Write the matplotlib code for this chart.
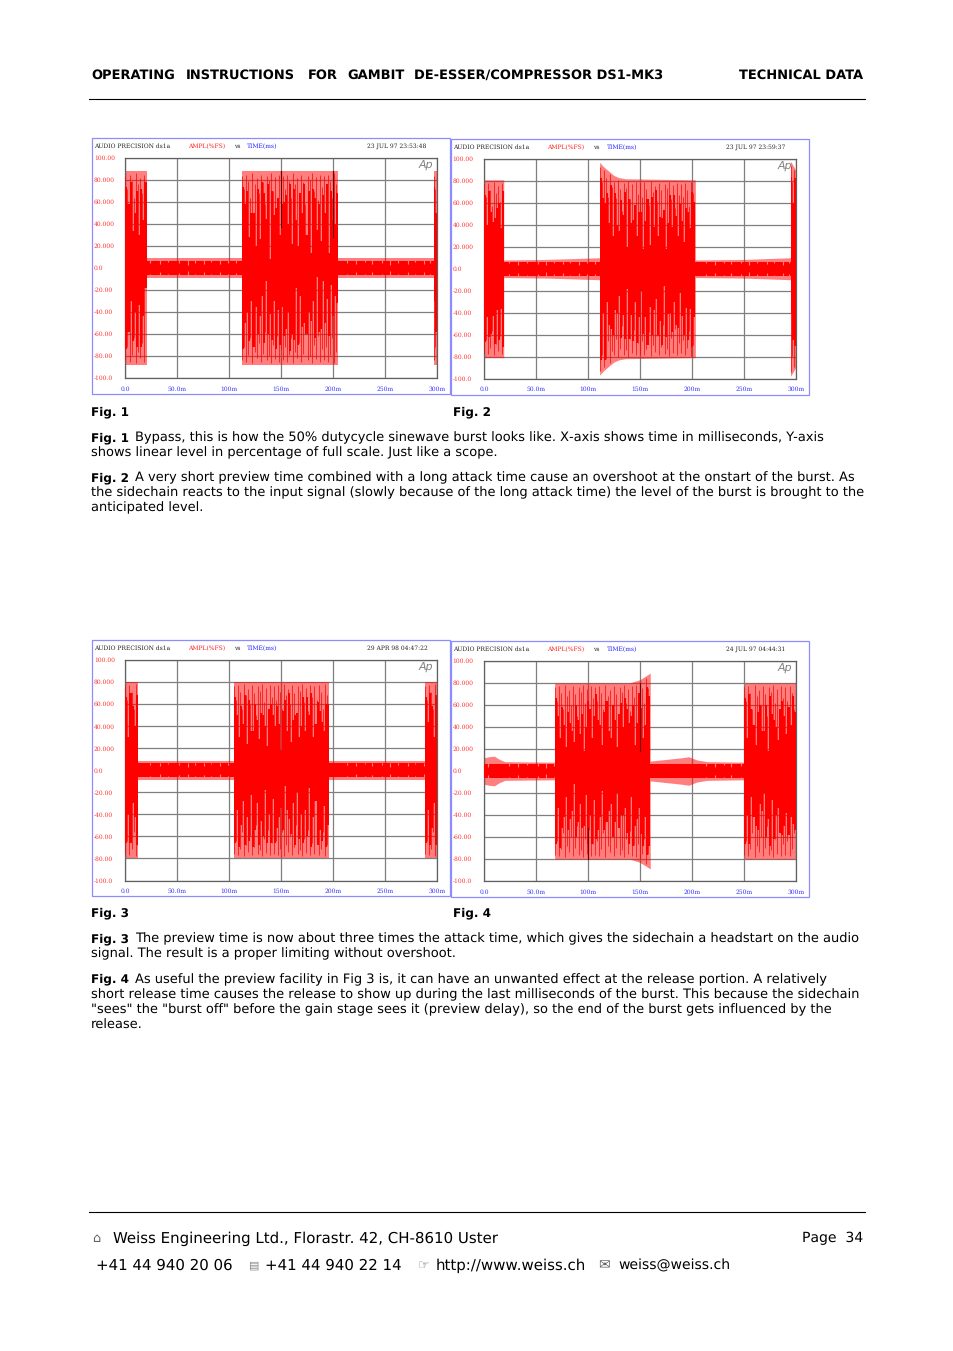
import matplotlib
matplotlib.use("Agg")
import matplotlib.pyplot as plt
import numpy as np

plt.rcParams["text.hinting"] = "no_hinting"
plt.rcParams["text.hinting_factor"] = 1

W = 954
H = 1351

# envelope of the signal, time in ms, level in %FS
fig1_env_t = [0, 20.5, 20.5, 112.7, 112.7, 205, 205, 297, 297, 300]
fig1_env = [88, 88, 9, 9, 88, 88, 9, 9, 88, 88]
fig2_env_t = [0, 19, 19, 60, 111.3, 111.3, 115, 120, 125, 130, 136, 203.4, 203.4, 250, 295, 295, 300]
fig2_env = [81, 81, 8, 8.5, 10, 97, 93, 89, 85, 83, 82, 81, 8, 8.5, 10, 98, 90]
fig3_env_t = [0, 12, 12, 104.3, 104.3, 195.9, 195.9, 288.5, 288.5, 300]
fig3_env = [80, 80, 8.5, 8.5, 80, 80, 8.5, 8.5, 80, 80]
fig4_env_t = [0, 5, 10, 14, 20, 68, 68, 140, 150, 160, 160, 175, 190, 197, 205, 215, 250.5, 250.5, 300]
fig4_env = [12, 13, 13.5, 11, 8.5, 8, 80, 80, 83, 89, 9, 10.5, 12, 13, 10, 8.5, 8, 80, 80]

# bursts: start, end of each one, then how far the solid red reaches on each column
fig1_spans = [(0, 20.5), (112.7, 205), (297, 300)]
fig1_tops = [
    [84, 60, 86, 34, 82, 70, 30, 85, 48, 80],
    [84, 80, 70, 28, 82, 50, 20, 78, 26, 84, 70, 45, 84, 8, 75, 82, 55, 80, 30, 84, 60, 78, 40, 85,
     22, 80, 68, 20, 76, 50, 82, 30, 78, 14, 72, 80, 35, 84, 25, 76, 66, 82, 14, 70, 84, 40, 82],
    [86, 50],
]
fig1_bots = [
    [-85, -60, -30, -80, -40, -72, -34, -84, -50, -18],
    [-80, -50, -40, -75, -30, -72, -35, -60, -45, -25, -70, -12, -60, -42, -65, -30, -75, -38, -70, -35, -62, -55,
     -40, -75, -60, -65, -18, -70, -25, -68, -50, -72, -40, -65, -30, -75, -8, -70, -55, -12, -60, -28, -62, -15,
     -75, -25, -32],
    [-30, -84],
]

fig2_spans = [(0, 19), (111.3, 203.4), (295, 300)]
fig2_tops = [
    [78, 40, 80, 52, 78, 46, 80, 60, 50, 78],
    [92, 88, 60, 84, 42, 80, 30, 80, 62, 34, 80, 50, 74, 20, 70, 80, 44, 78, 30, 76, 52, 18, 80, 64,
     22, 76, 60, 78, 30, 72, 46, 78, 18, 66, 80, 38, 76, 48, 30, 78, 64, 24, 78, 52, 80, 70, 76],
    [94, 60, 90],
]
fig2_bots = [
    [-78, -44, -62, -80, -50, -76, -38, -78, -54, -74],
    [-92, -40, -85, -30, -80, -55, -74, -38, -68, -25, -78, -42, -64, -18, -72, -50, -66, -30, -76, -44, -20, -70,
     -56, -78, -35, -60, -74, -28, -66, -48, -76, -16, -62, -72, -40, -68, -30, -78, -54, -22, -70, -60, -36, -76,
     -50, -78, -44],
    [-40, -92, -70],
]

fig3_spans = [(0, 12), (104.3, 195.9), (288.5, 300)]
fig3_tops = [
    [76, 30, 78, 62, 40, 78],
    [78, 60, 30, 76, 46, 72, 24, 78, 58, 36, 76, 68, 28, 74, 50, 78, 22, 70, 60, 78, 40, 76, 66,
     18, 72, 78, 44, 74, 26, 70, 50, 78, 30, 66, 76, 36, 72, 56, 78, 30, 74, 62, 78, 44, 76, 60, 72],
    [76, 44, 78, 58, 30, 78],
]
fig3_bots = [
    [-76, -40, -66, -30, -74, -78],
    [-76, -36, -70, -50, -28, -74, -42, -66, -22, -72, -54, -30, -76, -46, -60, -18, -70, -40, -74, -26, -66, -52,
     -76, -34, -62, -14, -72, -44, -58, -30, -76, -20, -68, -48, -74, -36, -60, -16, -70, -42, -28, -74, -54, -66,
     -32, -76, -50],
    [-74, -36, -68, -52, -30, -76],
]

fig4_spans = [(68, 160), (250.5, 300)]
fig4_tops = [
    [70, 76, 30, 74, 58, 22, 78, 44, 70, 26, 76, 60, 34, 78, 18, 72, 64, 78, 30, 68, 76, 46, 74,
     24, 70, 78, 52, 30, 76, 64, 22, 72, 78, 40, 68, 76, 44, 78, 60, 24, 76, 80, 82, 30, 86, 84, 88],
    [70, 30, 76, 56, 78, 24, 72, 60, 78, 36, 74, 18, 70, 78, 46, 76, 28, 72, 64, 78, 34, 74, 56, 78, 60],
]
fig4_bots = [
    [-76, -34, -70, -52, -72, -24, -64, -44, -76, -12, -60, -70, -30, -74, -50, -22, -68, -40, -76, -26, -62, -54,
     -74, -18, -70, -46, -76, -30, -60, -72, -20, -66, -40, -76, -34, -58, -74, -24, -68, -50, -78, -34, -70, -82,
     -44, -86, -88],
    [-76, -40, -66, -24, -72, -50, -76, -30, -60, -20, -74, -44, -68, -26, -76, -52, -34, -72, -58, -76, -38, -66,
     -74, -48, -70],
]

# how far below the envelope the sine peaks and the wider columns stop, read along one burst
peak_drop = [4, 16, 3, 9, 24, 2, 12, 6, 20, 3, 10, 30, 4, 8, 2, 18, 5, 26, 3, 14]
column_drop = [14, 30, 10, 22, 38, 12, 26, 16, 44, 10, 20, 34, 12, 28, 18, 40, 14, 24]

# pale notches in the quiet part between the bursts
quiet_notch_t = [4, 24, 33, 41, 52, 60, 67, 76, 83, 91, 99, 107, 126, 214, 222, 231, 238, 247, 255, 263, 272, 279, 288, 294]
quiet_notch = [4, 5, 3.5, 5.5, 4.5, 3, 5, 4, 5.5, 3.5, 5, 4.5, 4, 5, 3.5, 5.5, 4, 5, 3, 5, 4, 5.5, 3.5, 5]

# grid lines that stay dark through the trace: time, from, to
fig1_dark = [(150, 37, 88), (200, 28, 88)]
fig2_dark = []
fig3_dark = []
fig4_dark = [(150, 18, 80), (100, -80, -52)]

x_ticks = [0, 50, 100, 150, 200, 250, 300]
x_labels = ["0.0", "50.0m", "100m", "150m", "200m", "250m", "300m"]
y_ticks = [100, 80, 60, 40, 20, 0, -20, -40, -60, -80, -100]
y_labels = ["100.00", "80.000", "60.000", "40.000", "20.000", "0.0", "-20.00", "-40.00", "-60.00", "-80.00", "-100.0"]

header_words = ["OPERATING", "INSTRUCTIONS", "FOR", "GAMBIT", "DE-ESSER/COMPRESSOR DS1-MK3"]
header_x = [91, 186, 308, 347, 414]
header_right = "TECHNICAL DATA"

# bold label, x of the text after it, y, text
body_lines = [
    ("Fig. 1", 135, 437.7, "Bypass, this is how the 50% dutycycle sinewave burst looks like. X-axis shows time in milliseconds, Y-axis"),
    ("", 91, 452.7, "shows linear level in percentage of full scale. Just like a scope."),
    ("Fig. 2", 135, 478.2, "A very short preview time combined with a long attack time cause an overshoot at the onstart of the burst. As"),
    ("", 91, 493.2, "the sidechain reacts to the input signal (slowly because of the long attack time) the level of the burst is brought to the"),
    ("", 91, 508.2, "anticipated level."),
    ("Fig. 3", 135, 938.7, "The preview time is now about three times the attack time, which gives the sidechain a headstart on the audio"),
    ("", 91, 954, "signal. The result is a proper limiting without overshoot."),
    ("Fig. 4", 135, 979.5, "As useful the preview facility in Fig 3 is, it can have an unwanted effect at the release portion. A relatively"),
    ("", 91, 994.7, "short release time causes the release to show up during the last milliseconds of the burst. This because the sidechain"),
    ("", 91, 1010, "\"sees\" the \"burst off\" before the gain stage sees it (preview delay), so the end of the burst gets influenced by the"),
    ("", 91, 1025.5, "release."),
]
body_size = 9.38

fig = plt.figure(figsize=(W / 100, H / 100), dpi=100, facecolor="white")

page = fig.add_axes([0, 0, 1, 1])
page.set_xlim(0, W)
page.set_ylim(H, 0)
page.axis("off")

for word, x in zip(header_words, header_x):
    page.text(x, 75.5, word, fontsize=9.7, fontweight="bold", va="center", color="black")
page.text(863, 75.5, header_right, fontsize=9.7, fontweight="bold", va="center", ha="right", color="black")
page.plot([89, 865.5], [99, 99], color="black", lw=0.8)
page.plot([89, 865.5], [1212, 1212], color="black", lw=0.8)

page.text(91, 412.5, "Fig. 1", fontsize=8.9, fontweight="bold", va="center")
page.text(453.5, 412.5, "Fig. 2", fontsize=8.9, fontweight="bold", va="center")
page.text(91, 913.5, "Fig. 3", fontsize=8.9, fontweight="bold", va="center")
page.text(453.5, 913.5, "Fig. 4", fontsize=8.9, fontweight="bold", va="center")

for label, x, y, line in body_lines:
    if label:
        page.text(91, y, label, fontsize=8.9, fontweight="bold", va="center")
    page.text(x, y, line, fontsize=body_size, va="center")

# footer, the small icons are just grey glyphs
page.text(92, 1238.5, "⌂", fontsize=9, va="center", color="#606060")
page.text(113, 1238.5, "Weiss Engineering Ltd., Florastr. 42, CH-8610 Uster", fontsize=10.7, va="center")
page.text(863, 1238.5, "Page  34", fontsize=10.4, va="center", ha="right")
page.text(96, 1265.5, "+41 44 940 20 06", fontsize=10.7, va="center")
page.text(249, 1265.5, "▤", fontsize=8, va="center", color="#808080")
page.text(265, 1265.5, "+41 44 940 22 14", fontsize=10.7, va="center")
page.text(418, 1265.5, "☞", fontsize=9, va="center", color="#606060")
page.text(436, 1265.5, "http://www.weiss.ch", fontsize=10.7, va="center")
page.text(598, 1265.5, "✉", fontsize=10, va="center", color="#606060")
page.text(618, 1265.5, "weiss@weiss.ch", fontsize=10.2, va="center")


def draw_panel(border, plot, title_y, stamp, env_t, env, spans, tops, bots, dark):
    bx0, by0, bx1, by1 = border
    page.add_patch(plt.Rectangle((bx0, by0), bx1 - bx0, by1 - by0, fill=False, ec="#8c8cff", lw=0.9))
    page.text(bx0 + 2, title_y, "AUDIO PRECISION ds1a", fontsize=4.3, family="DejaVu Serif", va="center", color="#222222")
    page.text(bx0 + 96, title_y, "AMPL(%FS)", fontsize=4.5, family="DejaVu Serif", va="center", color="#ff2020")
    page.text(bx0 + 142, title_y, "vs", fontsize=4.3, family="DejaVu Serif", va="center", color="#222222")
    page.text(bx0 + 155, title_y, "TIME(ms)", fontsize=4.5, family="DejaVu Serif", va="center", color="#2020ff")
    page.text(bx0 + 275, title_y, stamp, fontsize=4.5, family="DejaVu Serif", va="center", color="#222222")

    px0, py0, px1, py1 = plot
    ax = fig.add_axes([px0 / W, 1 - py1 / H, (px1 - px0) / W, (py1 - py0) / H])
    ax.patch.set_alpha(0)
    ax.set_xlim(0, 300)
    ax.set_ylim(-100, 100)
    ax.set_xticks(x_ticks)
    ax.set_xticklabels(x_labels, fontsize=4.6, family="DejaVu Serif", color="#3030ff")
    ax.set_yticks(y_ticks)
    ax.set_yticklabels(y_labels, fontsize=4.5, family="DejaVu Serif", color="#ff3030", ha="left")
    ax.tick_params(axis="both", length=0)
    ax.tick_params(axis="x", pad=6)
    ax.tick_params(axis="y", pad=22.6)
    ax.grid(True, color="#7f7f7f", lw=0.9)
    ax.set_axisbelow(True)
    for s in ax.spines.values():
        s.set_color("#606060")
        s.set_linewidth(0.9)

    env_t = np.array(env_t)
    env = np.array(env)
    # pale envelope, solid quiet core under it
    ax.fill_between(env_t, -env, env, color="#ff0000", alpha=0.5, lw=0, zorder=2)
    quiet = np.minimum(env, 6.5)
    ax.fill_between(env_t, -quiet, quiet, color="#ff0000", lw=0, zorder=3)
    ax.vlines(quiet_notch_t, quiet_notch, 7, color="#ff8080", lw=0.8, zorder=4)
    ax.vlines(quiet_notch_t, -7, -np.array(quiet_notch), color="#ff8080", lw=0.8, zorder=4)

    for (t0, t1), top, bot in zip(spans, tops, bots):
        edges = np.linspace(t0, t1, len(top) + 1)
        peak_t = edges[:-1]
        level = np.interp(peak_t + 0.01, env_t, env)
        # wide columns stop short of the envelope, the pale band stays open
        cap = level - np.resize(column_drop, len(peak_t))
        ax.stairs(np.minimum(top, cap), edges, baseline=0, fill=True, color="#ff0000", lw=0, zorder=5)
        ax.stairs(np.maximum(bot, -cap), edges, baseline=0, fill=True, color="#ff0000", lw=0, zorder=5)
        # thin peaks between the columns, these leave the narrow pale slits
        reach = level - np.resize(peak_drop, len(peak_t))
        ax.vlines(peak_t, 0, reach, color="#ff0000", lw=0.5, zorder=5)
        ax.vlines(peak_t, -reach, 0, color="#ff0000", lw=0.5, zorder=5)

    for t, low, high in dark:
        ax.plot([t, t], [low, high], color="#700000", lw=0.8, zorder=6)

    ax.text(0.966, 0.97, "Ap", transform=ax.transAxes, fontsize=8, style="italic", color="#808080",
            ha="center", va="center", zorder=7)


draw_panel((92, 137.5, 450.5, 393.5), (125.3, 158, 436.7, 378), 146.5, "23 JUL 97 23:53:48",
           fig1_env_t, fig1_env, fig1_spans, fig1_tops, fig1_bots, fig1_dark)
draw_panel((451.5, 138.5, 809.5, 394.5), (484, 159, 795.7, 378.5), 147.5, "23 JUL 97 23:59:37",
           fig2_env_t, fig2_env, fig2_spans, fig2_tops, fig2_bots, fig2_dark)
draw_panel((92, 639.5, 450.5, 896), (125.3, 660, 436.7, 880.5), 648.5, "29 APR 98 04:47:22",
           fig3_env_t, fig3_env, fig3_spans, fig3_tops, fig3_bots, fig3_dark)
draw_panel((451.5, 640.5, 809.5, 896.5), (484, 661, 795.7, 881), 649.5, "24 JUL 97 04:44:31",
           fig4_env_t, fig4_env, fig4_spans, fig4_tops, fig4_bots, fig4_dark)

fig.savefig("out.png", dpi=100)
